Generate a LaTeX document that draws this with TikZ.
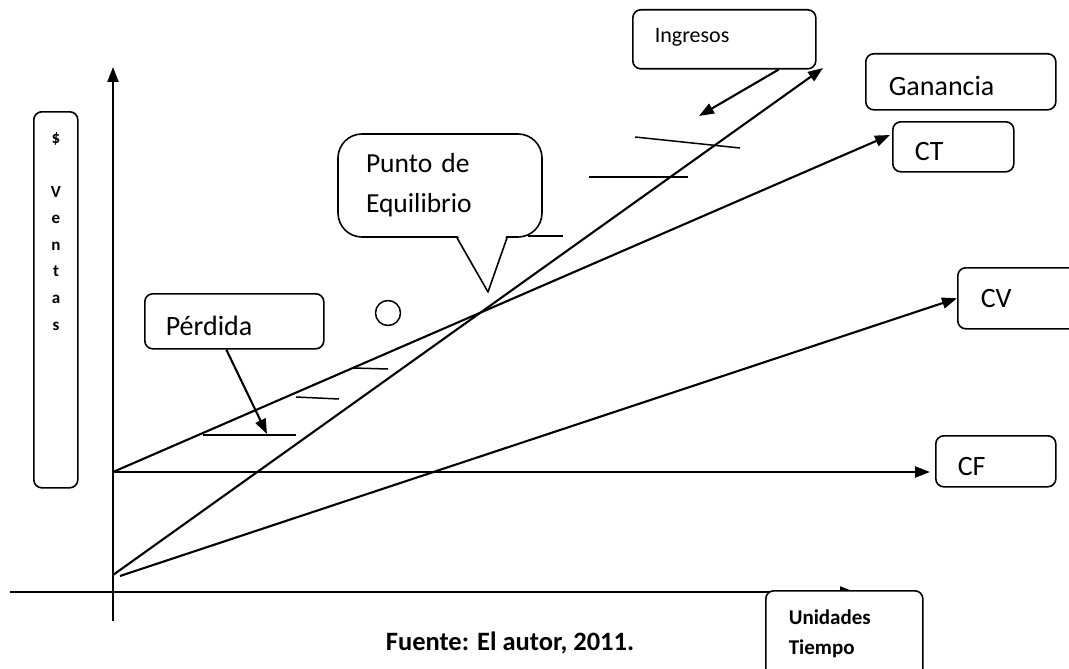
\documentclass[tikz,border=0pt]{standalone}
\usepackage{fontspec}
\setmainfont{Carlito}
\usetikzlibrary{arrows.meta,calc}
\begin{document}
\begin{tikzpicture}[x=1pt,y=-1pt,line join=round,line width=2.1pt,>={Triangle[length=15pt,width=11pt]},
    box/.style={draw,line width=1.6pt,rounded corners=8pt,fill=white,anchor=north west,align=left,inner ysep=0pt},
    lbl/.style={box,inner xsep=22pt,text height=28pt,text depth=0pt,font=\fontsize{28}{34}\selectfont},
    tick/.style={line width=1.5pt}]
                \useasboundingbox (0,0) rectangle (1069,669);
                \coordinate (ytop) at (113,67);
                \coordinate (ybot) at (113,621);
                \coordinate (xl) at (10,592);
                \coordinate (xr) at (855,592);
                \coordinate (cf0) at (113,472);
                \coordinate (cftip) at (930,472);
                \coordinate (cttip) at (890,135);
                \coordinate (cv0) at (120,576);
                \coordinate (in0) at (113,575);
                \coordinate (intip) at (823,68);
                \coordinate (ingtip) at (699,116);
                \coordinate (pertip) at (267,434);
                \draw[->] (ybot)--(ytop);
                \draw[->] (xl)--(xr);
                \draw[->] (cf0)--(cftip);
                \draw[->] (cf0)--(cttip);
                \draw[->] (in0)--(intip);
                \draw[tick] (635,137)--(740,148);
                \draw[tick] (589,177)--(688,177);
                \draw[tick] (353,368)--(388,369);
                \draw[tick] (296,397)--(339,399);
                \draw[tick] (203,435)--(296,435);
                \node[draw,circle,line width=1.5pt,minimum size=25pt,inner sep=0pt] (eqc) at (388,313) {};
                \node[box,minimum width=44pt,minimum height=376pt] (vbox) at (33,111) {};
                \node[anchor=north,align=center,inner sep=0pt,font=\bfseries\fontsize{17}{26.6}\selectfont] (vtxt) at (56,132) {\$\\\mbox{}\\V\\e\\n\\t\\a\\s};
                \node[box,inner xsep=22pt,text width=139pt,minimum height=59pt,text height=13pt,text depth=6pt,font=\fontsize{22}{26}\selectfont] (ing) at (632,9) {Ingresos};
                \node[lbl,inner xsep=23pt,text width=144pt,minimum height=56pt] (gan) at (865,53) {Ganancia};
                \node[lbl,text width=77pt,minimum height=50pt] (ct) at (892,121) {CT};
                \node[lbl,inner xsep=23pt,text width=74pt,minimum height=61pt,text height=19pt] (cv) at (957,267) {CV};
                \node[lbl,text width=76pt,minimum height=51pt] (cf) at (935,435) {CF};
                \node[lbl,inner xsep=21pt,text width=137pt,minimum height=55pt] (per) at (144,293) {Pérdida};
                \node[box,inner xsep=23pt,text width=111pt,minimum height=86pt,font=\bfseries\fontsize{21}{30}\selectfont] (uni) at (765,590) {Unidades\\Tiempo};
                \draw[->] (cv0)--(cv.west);
                \draw[->] ($(ing.south east)+(-38,0)$)--(ingtip);
                \draw[->] ($(per.south)+(-8,0)$)--(pertip);
                \node[draw,line width=1.6pt,rounded corners=24pt,fill=white,align=left,inner xsep=28pt,text width=148pt,minimum width=204pt,minimum height=103pt,font=\fontsize{27.5}{40}\selectfont] (peq) at (440,185.5) {Punto de\\Equilibrio};
                \fill[white] (458,236)--(488,291)--(506,236)--cycle;
                \coordinate (ptip) at (488,292);
                \draw[line width=1.6pt] ($(peq.south)+(17,0)$)--(ptip)--($(peq.south)+(67,0)$);
                \draw[tick] (528,236)--(563,236);
                \node[font=\bfseries\fontsize{26.5}{30}\selectfont] (src) at (510,643) {Fuente: El autor, 2011.};
              \end{tikzpicture}
\end{document}
